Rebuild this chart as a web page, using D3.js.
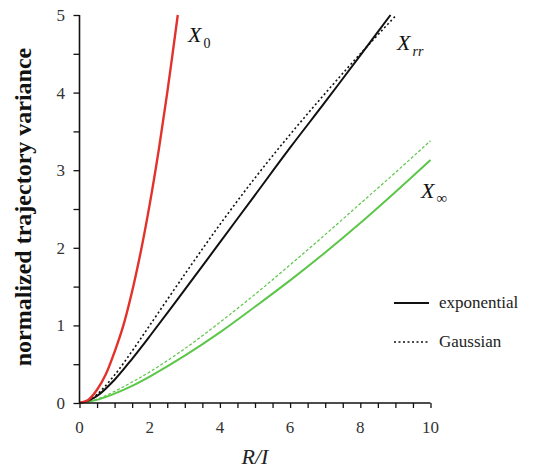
<!DOCTYPE html>
<html><head><meta charset="utf-8">
<script src="https://cdn.jsdelivr.net/npm/d3@7"></script>
<style>body{margin:0;background:#fff}svg{display:block}</style>
</head><body><svg id="c" width="540" height="472" font-family="'Liberation Serif', 'Times New Roman', Times, 'DejaVu Serif', serif"></svg>
<script>
// data
const xX0 = [0, 0.25, 0.5, 0.75, 1.0, 1.25, 1.5, 1.75, 2.0, 2.25, 2.5, 2.8];
const yX0 = [0, 0.04, 0.17, 0.37, 0.66, 1.0, 1.44, 1.96, 2.56, 3.24, 4.0, 5.0];
const xXrrExp = [0, 0.25, 0.5, 1, 1.5, 2, 3, 4, 5, 6, 7, 8, 8.86];
const yXrrExp = [0, 0.03, 0.09, 0.3, 0.57, 0.86, 1.46, 2.07, 2.68, 3.29, 3.88, 4.48, 5.0];
const xXrrGau = [0, 0.25, 0.5, 1, 1.5, 2, 3, 4, 5, 6, 7, 8, 9.03];
const yXrrGau = [0, 0.03, 0.11, 0.36, 0.67, 1.0, 1.66, 2.3, 2.9, 3.46, 3.99, 4.5, 5.0];
const xXinfExp = [0, 0.5, 1, 1.5, 2, 3, 4, 5, 6, 7, 8, 9, 10];
const yXinfExp = [0, 0.04, 0.12, 0.22, 0.34, 0.61, 0.91, 1.24, 1.58, 1.94, 2.32, 2.72, 3.13];
const xXinfGau = [0, 0.5, 1, 1.5, 2, 3, 4, 5, 6, 7, 8, 9, 10];
const yXinfGau = [0, 0.05, 0.15, 0.27, 0.4, 0.7, 1.04, 1.4, 1.78, 2.17, 2.57, 2.97, 3.38];
const xTickLabels = [0, 2, 4, 6, 8, 10];
const yTickLabels = [0, 1, 2, 3, 4, 5];
const legendLabels = ["exponential", "Gaussian"];

const svg = d3.select("#c");
const L = 79.5, R = 430.5, T = 15, B = 403;
const x = d3.scaleLinear().domain([0, 10]).range([L, R]);
const y = d3.scaleLinear().domain([0, 5]).range([B, T]);

svg.append("defs").append("clipPath").attr("id", "clip")
  .append("rect").attr("x", L).attr("y", T - 1).attr("width", R - L + 2).attr("height", B - T + 2);

const line = d3.line().x(d => x(d[0])).y(d => y(d[1])).curve(d3.curveCatmullRom.alpha(0.5));
const zip = (a, b) => a.map((v, i) => [v, b[i]]);

const g = svg.append("g").attr("clip-path", "url(#clip)");
const series = [
  {d: zip(xXinfGau, yXinfGau), c: "#5cc649", w: 1.2, dash: "3,2"},
  {d: zip(xXinfExp, yXinfExp), c: "#5cc649", w: 2, dash: null},
  {d: zip(xXrrGau, yXrrGau), c: "#111", w: 1.6, dash: "2,2.5"},
  {d: zip(xXrrExp, yXrrExp), c: "#111", w: 2, dash: null},
  {d: zip(xX0, yX0), c: "#e3322b", w: 2.4, dash: null}
];
series.forEach(s => {
  g.append("path").attr("d", line(s.d)).attr("fill", "none")
    .attr("stroke", s.c).attr("stroke-width", s.w)
    .attr("stroke-dasharray", s.dash);
});

// axes
const xAxis = d3.axisBottom(x).tickValues(d3.range(0, 10.01, 0.5)).tickSize(5).tickFormat("");
const xa = svg.append("g").attr("transform", `translate(0,${B})`).call(xAxis);
const yAxis = d3.axisLeft(y).tickValues(d3.range(0, 5.01, 0.5)).tickSize(6).tickFormat("");
const ya = svg.append("g").attr("transform", `translate(${L},0)`).call(yAxis);
[xa, ya].forEach(a => {
  a.select(".domain").attr("stroke", "#111").attr("stroke-width", 1.6);
  a.selectAll(".tick line").attr("stroke", "#111").attr("stroke-width", 1.3);
});
xa.select(".domain").attr("d", `M${L},0H${R}`);
ya.select(".domain").attr("d", `M0,${B}V${T}`);

svg.append("g").selectAll("text").data(xTickLabels).join("text")
  .attr("x", d => x(d)).attr("y", 433).attr("text-anchor", "middle")
  .attr("font-size", 17).attr("fill", "#333").text(d => d);
svg.append("g").selectAll("text").data(yTickLabels).join("text")
  .attr("x", 65).attr("y", d => y(d) + 6).attr("text-anchor", "end")
  .attr("font-size", 17).attr("fill", "#333").text(d => d);

// axis titles
svg.append("text").attr("x", x(5)).attr("y", 464).attr("text-anchor", "middle")
  .attr("font-size", 22).attr("font-style", "italic").attr("fill", "#222").text("R/I");
svg.append("text").attr("transform", "translate(31,207) rotate(-90)")
  .attr("text-anchor", "middle").attr("font-size", 24).attr("font-weight", "bold")
  .attr("fill", "#111").text("normalized trajectory variance");

// curve labels
function lab(px, py, sub, subItalic, subSize, dy) {
  const t = svg.append("text").attr("x", px).attr("y", py).attr("fill", "#111");
  t.append("tspan").attr("font-style", "italic").attr("font-size", 22).text("X");
  t.append("tspan").attr("dx", 2).attr("dy", dy).attr("font-size", subSize)
    .attr("font-style", subItalic ? "italic" : "normal").text(sub);
}
lab(188, 42, "0", false, 14, 6);
lab(397, 50, "rr", true, 14, 6);
lab(421, 198, "\u221E", false, 15, 5);

// legend
const leg = svg.append("g");
const legStyles = [{dash: null, w: 2}, {dash: "2,2.5", w: 1.6}];
legendLabels.forEach((t, i) => {
  const ly = 303 + i * 39;
  leg.append("line").attr("x1", 394).attr("x2", 429).attr("y1", ly).attr("y2", ly)
    .attr("stroke", "#111").attr("stroke-width", legStyles[i].w)
    .attr("stroke-dasharray", legStyles[i].dash);
  leg.append("text").attr("x", 439).attr("y", ly + 5).attr("font-size", 17)
    .attr("fill", "#222").text(t);
});
</script></body></html>
